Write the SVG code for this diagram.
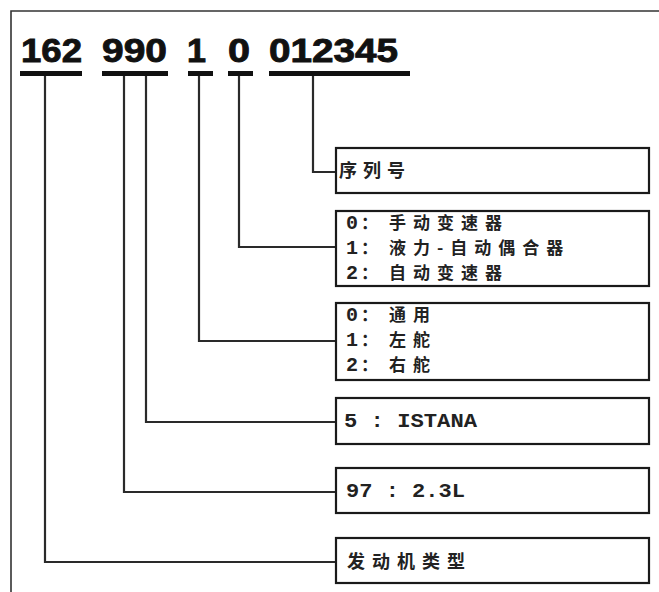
<svg xmlns="http://www.w3.org/2000/svg" width="659" height="592" viewBox="0 0 659 592">
<style>
.frame{fill:none;stroke:#333;stroke-width:1.6}
.num{font-family:"Liberation Sans",Arial,sans-serif;font-weight:bold;font-size:34px;fill:#111;stroke:#111;stroke-width:0.9}
.ul{fill:#111}
.box{fill:#fff;stroke:#1a1a1a;stroke-width:2.2}
.cn{font-family:"Noto Sans CJK SC",sans-serif;font-weight:bold;font-size:17px;letter-spacing:7px;fill:#222}
.lat{font-family:"Liberation Mono","Courier New",monospace;font-weight:bold;font-size:20px;fill:#222}
.conn path{fill:none;stroke:#2a2a2a;stroke-width:2.2}
</style>
<rect width="659" height="592" fill="#fff"/>
<path class="frame" d="M11,592 V11 H659"/>
<g id="code">
<text class="num" x="21" y="62" textLength="61" lengthAdjust="spacingAndGlyphs">162</text>
<text class="num" x="102" y="62" textLength="65" lengthAdjust="spacingAndGlyphs">990</text>
<text class="num" x="187" y="62" textLength="19" lengthAdjust="spacingAndGlyphs">1</text>
<text class="num" x="228" y="62" textLength="22" lengthAdjust="spacingAndGlyphs">0</text>
<text class="num" x="269" y="62" textLength="129" lengthAdjust="spacingAndGlyphs">012345</text>
<rect class="ul" x="20" y="71" width="62" height="5"/>
<rect class="ul" x="102" y="71" width="66" height="5"/>
<rect class="ul" x="188" y="71" width="25" height="5"/>
<rect class="ul" x="228" y="71" width="25" height="5"/>
<rect class="ul" x="269" y="71" width="141" height="5"/>
</g>
<g class="conn" id="connectors">
<path d="M313,76 V172 H336"/>
<path d="M239,76 V247 H336"/>
<path d="M199,76 V341 H336"/>
<path d="M146,76 V422 H336"/>
<path d="M124,76 V492 H336"/>
<path d="M45,76 V562 H336"/>
</g>
<g id="box-serial">
<rect class="box" x="336" y="148" width="313" height="45"/>
<text class="cn" x="339" y="177" style="font-size:18px;letter-spacing:6px">序列号</text>
</g>
<g id="box-trans">
<rect class="box" x="336" y="211" width="313" height="75"/>
<text class="lat" x="346" y="229">0</text><text class="cn" x="361" y="229">：</text><text class="cn" x="389" y="229">手动变速器</text>
<text class="lat" x="346" y="254">1</text><text class="cn" x="361" y="254">：</text><text class="cn" x="389" y="254">液力-自动偶合器</text>
<text class="lat" x="346" y="279">2</text><text class="cn" x="361" y="279">：</text><text class="cn" x="389" y="279">自动变速器</text>
</g>
<g id="box-drive">
<rect class="box" x="336" y="303" width="313" height="77"/>
<text class="lat" x="346" y="321">0</text><text class="cn" x="361" y="321">：</text><text class="cn" x="389" y="321">通用</text>
<text class="lat" x="346" y="346">1</text><text class="cn" x="361" y="346">：</text><text class="cn" x="389" y="346">左舵</text>
<text class="lat" x="346" y="371">2</text><text class="cn" x="361" y="371">：</text><text class="cn" x="389" y="371">右舵</text>
</g>
<g id="box-model">
<rect class="box" x="336" y="398" width="313" height="46"/>
<text class="lat" x="344" y="427" textLength="133" lengthAdjust="spacingAndGlyphs">5 : ISTANA</text>
</g>
<g id="box-disp">
<rect class="box" x="336" y="468" width="313" height="45"/>
<text class="lat" x="346" y="497" textLength="119" lengthAdjust="spacingAndGlyphs">97 : 2.3L</text>
</g>
<g id="box-engine">
<rect class="box" x="336" y="538" width="313" height="45"/>
<text class="cn" x="347" y="568" style="font-size:18px;letter-spacing:7px">发动机类型</text>
</g>
</svg>
